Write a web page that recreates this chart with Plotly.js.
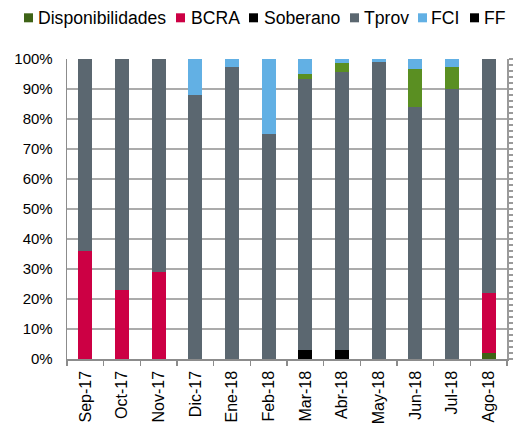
<!DOCTYPE html>
<html>
<head>
<meta charset="utf-8">
<script src="https://cdn.plot.ly/plotly-3.0.1.min.js"></script>
<style>html,body{margin:0;padding:0;background:#fff;}#chart{width:514px;height:428px;}</style>
</head>
<body>
<div id="chart"></div>
<script>
// ---- data ----
const categories = ["Sep-17","Oct-17","Nov-17","Dic-17","Ene-18","Feb-18","Mar-18","Abr-18","May-18","Jun-18","Jul-18","Ago-18"];
const disponibilidadesBase = [0,0,0,0,0,0,0,0,0,0,0,2];
const bcra     = [36,23,29,0,0,0,0,0,0,0,0,20];
const soberano = [0,0,0,0,0,0,3,3,0,0,0,0];
const tprov    = [64,77,71,88,97.5,75,90.2,92.6,99,84,90,78];
const disponibilidadesTop = [0,0,0,0,0,0,1.9,3,0,12.8,7.5,0];
const fci      = [0,0,0,12,2.5,25,4.9,1.4,1,3.2,2.5,0];
const ff       = [0,0,0,0,0,0,0,0,0,0,0,0];
const yTicks   = [0,10,20,30,40,50,60,70,80,90,100];
const yTickLabels = yTicks.map(v => v + "%");
const legendNames = ["Disponibilidades","BCRA","Soberano","Tprov","FCI","FF"];

// ---- styles ----
const C = {
  disp: "#3e6316", dispTop: "#5a8f22", bcra: "#cc0044", sob: "#000000",
  tprov: "#5b6770", fci: "#62b0e4", ff: "#000000"
};
const legendColors = [C.disp, C.bcra, C.sob, C.tprov, C.fci, C.ff];
const FONT = "Liberation Sans, Arial, sans-serif";

function bar(name, y, color) {
  return {type: "bar", name: name, x: categories, y: y, marker: {color: color, line: {width: 0}},
          showlegend: false, hoverinfo: "x+y+name"};
}
const traces = [
  bar("Disponibilidades", disponibilidadesBase, C.disp),
  bar("BCRA", bcra, C.bcra),
  bar("Soberano", soberano, C.sob),
  bar("Tprov", tprov, C.tprov),
  bar("Disponibilidades", disponibilidadesTop, C.dispTop),
  bar("FCI", fci, C.fci),
  bar("FF", ff, C.ff),
  {type: "scatter", mode: "none", x: categories, y: [], yaxis: "y2", showlegend: false, hoverinfo: "skip"}
];

// ---- layout ----
const W = 514, H = 428, ML = 67, MR = 7, MT = 59, MB = 69;
const PW = W - ML - MR, PH = H - MT - MB;
const px = v => (v - ML) / PW;
const py = v => (H - MB - v) / PH;

const legSquares = [24, 176, 249, 350, 418, 470];
const legText    = [36.5, 189.5, 262.5, 362.5, 429.5, 482.5];
const legY = 17.8, sq = 9;
const shapes = [], annotations = [];
legendNames.forEach((n, i) => {
  shapes.push({type: "rect", xref: "paper", yref: "paper",
    x0: px(legSquares[i]), x1: px(legSquares[i] + sq), y0: py(legY - sq/2), y1: py(legY + sq/2),
    fillcolor: legendColors[i], line: {width: 0}});
  annotations.push({xref: "paper", yref: "paper", x: px(legText[i]), y: py(legY), xanchor: "left", yanchor: "middle",
    text: n, showarrow: false, font: {family: FONT, size: 17.6, color: "#000"}, borderpad: 0});
});

const layout = {
  width: W, height: H,
  margin: {l: ML, r: MR, t: MT, b: MB, pad: 0},
  paper_bgcolor: "#fff", plot_bgcolor: "#fff",
  barmode: "stack", bargap: 0.61,
  showlegend: false,
  font: {family: FONT, size: 15, color: "#000"},
  xaxis: {type: "category", tickson: "boundaries", ticks: "outside", ticklen: 5, tickwidth: 1.3, tickcolor: "#8c8c8c",
          showline: true, linecolor: "#8c8c8c", linewidth: 1.5, showgrid: false, tickangle: -90,
          tickfont: {family: FONT, size: 16, color: "#000"}, ticklabelstandoff: 4, fixedrange: true},
  yaxis: {range: [0, 100], tickvals: yTicks, ticktext: yTickLabels, showgrid: true, gridcolor: "#ababab", gridwidth: 1.6,
          zeroline: false, showline: true, linecolor: "#8c8c8c", linewidth: 1.3, ticks: "", 
          tickfont: {family: FONT, size: 15, color: "#000"}, ticklabelstandoff: 10, fixedrange: true},
  yaxis2: {overlaying: "y", side: "right", range: [0, 100], dtick: 2, tick0: 0, ticks: "outside", ticklen: 4, tickwidth: 1.2,
           tickcolor: "#9a9a9a", showline: true, linecolor: "#9a9a9a", linewidth: 1.5, showticklabels: false,
           showgrid: false, zeroline: false, fixedrange: true},
  shapes: shapes, annotations: annotations
};

Plotly.newPlot("chart", traces, layout, {displayModeBar: false, staticPlot: true});
</script>
</body>
</html>
